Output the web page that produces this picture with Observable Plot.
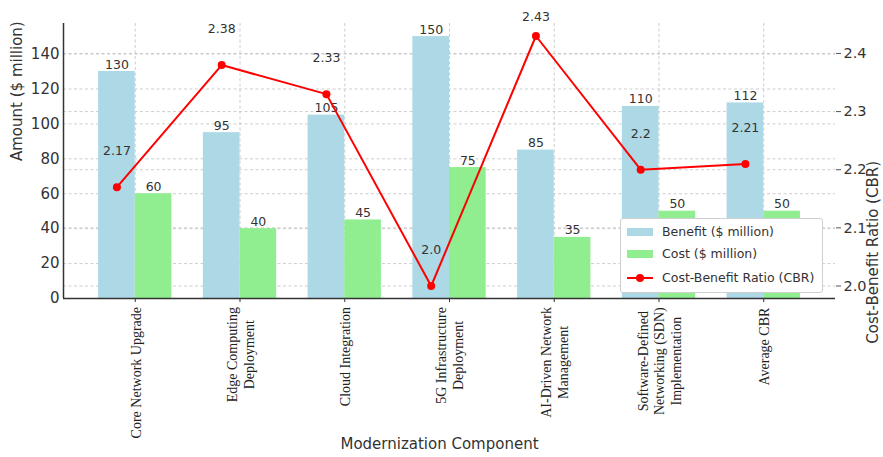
<!DOCTYPE html>
<html>
<head>
<meta charset="utf-8">
<script src="https://cdn.jsdelivr.net/npm/d3@7"></script>
<script src="https://cdn.jsdelivr.net/npm/@observablehq/plot@0.6"></script>
<style>
  body { margin: 0; background: #fff; }
  #wrap { position: relative; width: 883px; height: 457px; }
  .legend { position: absolute; left: 620px; top: 218px; width: 201px; height: 73px;
    background: #fff; border: 1px solid #cfcfcf; border-radius: 3px;
    font-family: "DejaVu Sans", sans-serif; font-size: 12.5px; color: #333; }
  .legend .row { position: absolute; left: 0; height: 16px; white-space: nowrap; }
  .legend .sw { position: absolute; left: 6px; }
  .legend .lab { position: absolute; left: 41px; }
</style>
</head>
<body>
<div id="wrap"></div>
<script>
// ---- data ----
const components = [
  "Core Network Upgrade",
  "Edge Computing\nDeployment",
  "Cloud Integration",
  "5G Infrastructure\nDeployment",
  "AI-Driven Network\nManagement",
  "Software-Defined\nNetworking (SDN)\nImplementation",
  "Average CBR"
];
const benefit = [130, 95, 105, 150, 85, 110, 112];
const cost = [60, 40, 45, 75, 35, 50, 50];
const cbr = [2.17, 2.38, 2.33, 2.0, 2.43, 2.2, 2.21];
const leftTicks = [0, 20, 40, 60, 80, 100, 120, 140];
const rightTicks = [2.0, 2.1, 2.2, 2.3, 2.4];
const legendItems = [
  {label: "Benefit ($ million)", color: "#add8e6", kind: "patch"},
  {label: "Cost ($ million)", color: "#90ee90", kind: "patch"},
  {label: "Cost-Benefit Ratio (CBR)", color: "red", kind: "line"}
];

// ---- scales helpers ----
const leftDomain = [0, 157.5];
const rightDomain = [1.9785, 2.4515];
const toLeft = d3.scaleLinear(rightDomain, leftDomain);
const xDomain = [-0.685, 6.685];
const fmtCbr = v => Number.isInteger(v) ? v.toFixed(1) : String(v);
const cbrLabelOffset = 0.0615;
const cbrLabelMax = 2.4635;

const rows = components.map((c, i) => ({i, name: c, benefit: benefit[i], cost: cost[i], cbr: cbr[i]}));
const idx = components.map((_, i) => i);
const grid = {stroke: "#c8c8c8", strokeDasharray: "3,2.5", strokeWidth: 0.9};

const plot = Plot.plot({
  width: 883,
  height: 457,
  marginTop: 23,
  marginBottom: 159,
  marginLeft: 63,
  marginRight: 48,
  style: {fontFamily: "DejaVu Sans, sans-serif", fontSize: "15px", color: "#333", background: "#fff", overflow: "visible"},
  x: {type: "linear", domain: xDomain, label: null},
  y: {domain: leftDomain, label: null},
  marks: [
    // grid
    Plot.ruleY(leftTicks, grid),
    Plot.ruleY(rightTicks.map(toLeft), grid),
    Plot.ruleX(idx, grid),
    // bars
    Plot.rectY(rows, {x1: d => d.i - 0.35, x2: d => d.i, y1: 0, y2: "benefit", fill: "#add8e6"}),
    Plot.rectY(rows, {x1: d => d.i, x2: d => d.i + 0.35, y1: 0, y2: "cost", fill: "#90ee90"}),
    Plot.text(rows, {x: d => d.i - 0.175, y: "benefit", text: d => String(d.benefit), dy: -7, fontSize: 12.5, fill: "#333"}),
    Plot.text(rows, {x: d => d.i + 0.175, y: "cost", text: d => String(d.cost), dy: -7, fontSize: 12.5, fill: "#333"}),
    // CBR line
    Plot.line(rows, {x: d => d.i - 0.175, y: d => toLeft(d.cbr), stroke: "red", strokeWidth: 2}),
    Plot.dot(rows, {x: d => d.i - 0.175, y: d => toLeft(d.cbr), r: 4, fill: "red", stroke: "none"}),
    Plot.text(rows, {x: d => d.i - 0.175, y: d => toLeft(Math.min(d.cbr + cbrLabelOffset, cbrLabelMax)),
      text: d => fmtCbr(d.cbr), fontSize: 12.5, fill: "#333"}),
    // spines
    Plot.ruleX([xDomain[0]], {stroke: "#333", strokeWidth: 1.5}),
    Plot.ruleY([0], {stroke: "#333", strokeWidth: 1.5}),
    // axes
    Plot.axisY({ticks: leftTicks, tickSize: 0, tickPadding: 4, label: null, fontSize: 15, fill: "#333"}),
    Plot.axisY({anchor: "right", ticks: rightTicks.map(toLeft), tickFormat: v => toLeft.invert(v).toFixed(1),
      tickSize: 5, tickPadding: 3, label: null, fontSize: 14.5, fill: "#333", stroke: "#555"}),
    Plot.axisX({ticks: idx, tickFormat: () => "", tickSize: 4, label: null, stroke: "#333"}),
    Plot.text(idx, {x: d => d, text: d => components[d], frameAnchor: "bottom", rotate: -90,
      textAnchor: "middle", lineAnchor: "middle", lineHeight: 1.2,
      fontFamily: "Liberation Serif, Times New Roman, serif", fontSize: 14, fill: "#222"}),
    // axis titles
    Plot.text(["Amount ($ million)"], {frameAnchor: "left", dx: -46, rotate: -90, fontSize: 15, fill: "#333"}),
    Plot.text(["Cost-Benefit Ratio (CBR)"], {frameAnchor: "right", dx: 38, rotate: -90, fontSize: 15, fill: "#333"}),
    Plot.text(["Modernization Component"], {frameAnchor: "bottom", dy: 150, dx: -10, fontSize: 15, fill: "#333"})
  ]
});

const wrap = document.getElementById("wrap");
wrap.append(plot);

// top-anchor the rotated multi-line category labels just below the axis (lines stay centered)
const flat = components.map(c => c.replace(/\n/g, ""));
const svgTop = plot.getBoundingClientRect().top;
const labelTop = 298 + 9;
plot.querySelectorAll("text").forEach(t => {
  if (!flat.includes(t.textContent)) return;
  const r = t.getBoundingClientRect();
  const delta = labelTop - (r.top - svgTop);
  const tr = t.getAttribute("transform") || "";
  t.setAttribute("transform", `translate(0,${delta}) ${tr}`);
});

// legend
const legend = document.createElement("div");
legend.className = "legend";
const rowTops = [5, 27, 51];
legendItems.forEach((item, k) => {
  const row = document.createElement("div");
  row.className = "row";
  row.style.top = rowTops[k] + "px";
  row.style.width = "200px";
  let sw;
  if (item.kind === "patch") {
    sw = `<div class="sw" style="top:4px;width:26px;height:8px;background:${item.color}"></div>`;
  } else {
    sw = `<svg class="sw" style="top:0" width="26" height="16"><line x1="0" y1="8" x2="26" y2="8" stroke="${item.color}" stroke-width="2"/><circle cx="13" cy="8" r="4" fill="${item.color}"/></svg>`;
  }
  row.innerHTML = sw + `<span class="lab" style="top:0;line-height:16px">${item.label}</span>`;
  legend.append(row);
});
wrap.append(legend);
</script>
</body>
</html>
